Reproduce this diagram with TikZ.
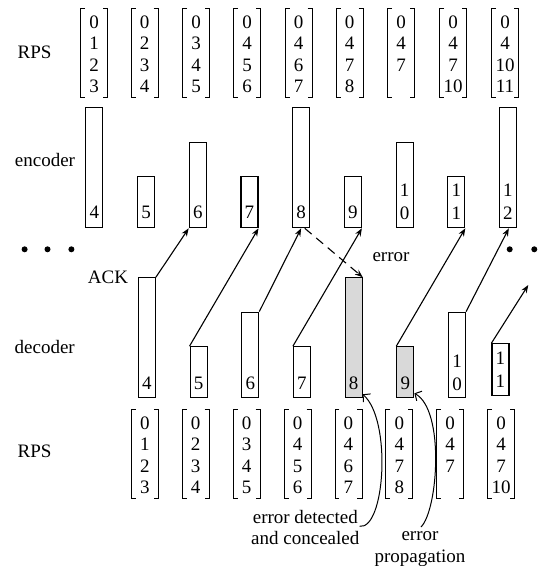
\documentclass[tikz,border=0pt]{standalone}
\usepackage{fontspec}
\setmainfont{Liberation Serif}
\usetikzlibrary{arrows.meta,calc}
\newcommand\rpsmat[4]{%
  \draw[brk] (#2-9,#3) -- (#2-13.5,#3) -- (#2-13.5,#3+89) -- (#2-9,#3+89);
  \draw[brk] (#2+9,#3) -- (#2+13.5,#3) -- (#2+13.5,#3+89) -- (#2+9,#3+89);
  \foreach \v [count=\i from 0] in {#4} \node[txt] (#1-\i) at (#2,#3+13.5+21.5*\i) {\v};
}
\begin{document}
\begin{tikzpicture}[x=1pt,y=-1pt,
  txt/.style={inner sep=0pt,font=\fontsize{19}{21.5}\selectfont},
  twodig/.style={inner sep=0pt,align=center,font=\fontsize{19}{23}\selectfont},
  box/.style={draw,line width=1.1pt,minimum width=17pt,inner sep=0pt,anchor=south west},
  errbox/.style={box,fill=black!15},
  brk/.style={line width=0.8pt},
  ack/.style={line width=1.1pt,-{Stealth[length=8pt,width=6pt]}},
  lost/.style={line width=1.1pt,dash pattern=on 9pt off 6pt,-{Stealth[length=8pt,width=6pt]}},
  note/.style={line width=1pt,-{Straight Barb[length=5pt,width=11pt]}},
  dot/.style={fill=black,circle,inner sep=0pt,minimum size=6pt}]
\useasboundingbox (0,0) rectangle (552,566);
% top RPS
\node[txt] (rpsT) at (34.5,52.7) {RPS};
\rpsmat{t1}{94}{8.5}{0,1,2,3}
\rpsmat{t2}{144.5}{8.5}{0,2,3,4}
\rpsmat{t3}{196}{8.5}{0,3,4,5}
\rpsmat{t4}{247}{8.5}{0,4,5,6}
\rpsmat{t5}{298.5}{8.5}{0,4,6,7}
\rpsmat{t6}{349.5}{8.5}{0,4,7,8}
\rpsmat{t7}{401}{8.5}{0,4,7}
\rpsmat{t8}{453}{8.5}{0,4,7,10}
\rpsmat{t9}{505}{8.5}{0,4,10,11}
% encoder
\node[txt] (enc) at (45,160) {encoder};
\node[box,minimum height=120pt] (e4) at (85.3,228.3) {};
\node[box,minimum height=51.3pt] (e5) at (137,228.3) {};
\node[box,minimum height=85.6pt] (e6) at (188.7,228.3) {};
\node[box,minimum height=51.3pt] (e7) at (240.4,228.3) {};
\node[box,minimum height=120pt] (e8) at (292.1,228.3) {};
\node[box,minimum height=51.3pt] (e9) at (343.8,228.3) {};
\node[box,minimum height=85.6pt] (e10) at (395.5,228.3) {};
\node[box,minimum height=51.3pt] (e11) at (447.2,228.3) {};
\node[box,minimum height=120pt] (e12) at (498.9,228.3) {};
\node[txt] (e4t) at ([yshift=16pt]e4.south) {4};
\node[txt] (e5t) at ([yshift=16pt]e5.south) {5};
\node[txt] (e6t) at ([yshift=16pt]e6.south) {6};
\node[txt] (e7t) at ([yshift=16pt]e7.south) {7};
\node[txt] (e8t) at ([yshift=16pt]e8.south) {8};
\node[txt] (e9t) at ([yshift=16pt]e9.south) {9};
\node[twodig] (e10t) at ([yshift=26.5pt]e10.south) {1\\0};
\node[twodig] (e11t) at ([yshift=26.5pt]e11.south) {1\\1};
\node[twodig] (e12t) at ([yshift=26.5pt]e12.south) {1\\2};
% dots
\node[dot] (l1) at (24.6,249.3) {};
\node[dot] (l2) at (47.5,249.3) {};
\node[dot] (l3) at (71.4,249.3) {};
\node[dot] (r1) at (509.7,249.3) {};
\node[dot] (r2) at (534.3,249.3) {};
% decoder
\node[txt] (dec) at (44.7,346.7) {decoder};
\node[box,minimum height=120pt] (d4) at (137.8,398.3) {};
\node[box,minimum height=51pt] (d5) at (189.5,398.3) {};
\node[box,minimum height=85.6pt] (d6) at (241.2,398.3) {};
\node[box,minimum height=51pt] (d7) at (292.9,398.3) {};
\node[errbox,minimum height=120pt] (d8) at (344.6,398.3) {};
\node[errbox,minimum height=51pt] (d9) at (396.3,398.3) {};
\node[box,minimum height=85.6pt] (d10) at (448,398.3) {};
\node[box,minimum height=51.4pt] (d11) at (491.4,395.7) {};
\node[txt] (d4t) at ([yshift=15pt]d4.south) {4};
\node[txt] (d5t) at ([yshift=15pt]d5.south) {5};
\node[txt] (d6t) at ([yshift=15pt]d6.south) {6};
\node[txt] (d7t) at ([yshift=15pt]d7.south) {7};
\node[txt] (d8t) at ([yshift=15pt]d8.south) {8};
\node[txt] (d9t) at ([yshift=15pt]d9.south) {9};
\node[twodig] (d10t) at ([yshift=25.8pt]d10.south) {1\\0};
\node[twodig] (d11t) at ([yshift=25.7pt]d11.south) {1\\1};
% labels
\node[txt,anchor=east] (ack) at (128.3,277.7) {ACK};
\node[txt] (err) at (391,257.3) {error};
% ACK arrows
\coordinate (free) at (528.3,285);
\draw[ack] (d4.north east) -- (e6.south west);
\draw[ack] (d5.north west) -- (e7.south east);
\draw[ack] (d6.north east) -- (e8.south);
\draw[ack] (d7.north west) -- (e9.south east);
\draw[ack] (d9.north west) -- (e11.south east);
\draw[ack] (d10.north east) -- ($(e12.south west)!0.55!(e12.south east)$);
\draw[ack] (d11.north west) -- (free);
\draw[lost] ($(e8.south)!0.4!(e8.south east)$) -- (d8.north east);
% bottom RPS
\node[txt] (rpsB) at (34.5,451) {RPS};
\rpsmat{b1}{144.8}{409.5}{0,1,2,3}
\rpsmat{b2}{195.7}{409.5}{0,2,3,4}
\rpsmat{b3}{246.6}{409.5}{0,3,4,5}
\rpsmat{b4}{297.5}{409.5}{0,4,5,6}
\rpsmat{b5}{348.4}{409.5}{0,4,6,7}
\rpsmat{b6}{399.3}{409.5}{0,4,7,8}
\rpsmat{b7}{450.2}{409.5}{0,4,7}
\rpsmat{b8}{501}{409.5}{0,4,7,10}
% notes
\node[txt,align=center] (conc) at (305.3,527.3) {error detected\\and concealed};
\node[txt,align=center] (prop) at (420,549) {error\\propagation};
\draw[note] ($(conc.east)+(0,-1)$) .. controls (385,530) and (392,420) .. ([yshift=4pt]d8.south east);
\draw[note] (421,527) .. controls (438,510) and (445,410) .. ([yshift=5pt]d9.south east);
\end{tikzpicture}
\end{document}
